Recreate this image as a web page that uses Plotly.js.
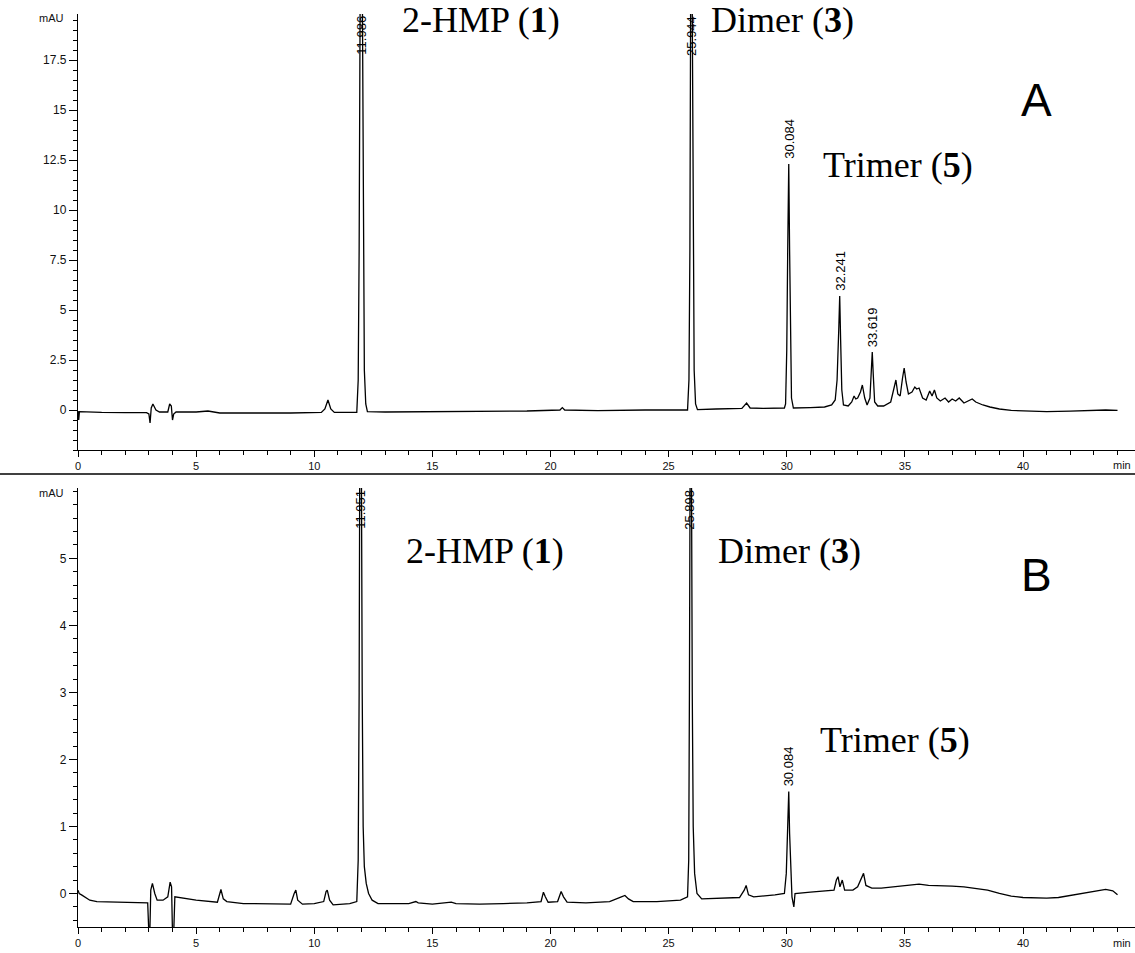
<!DOCTYPE html>
<html>
<head>
<meta charset="utf-8">
<script src="https://cdn.plot.ly/plotly-3.0.1.min.js"></script>
<style>html,body{margin:0;padding:0;background:#fff;}#chart{width:1135px;height:953px;}</style>
</head>
<body>
<div id="chart"></div>
<script>
// ---------- DATA ----------
// Panel A chromatogram (retention time in min, signal in mAU)
const timeA = [0.00,0.03,0.06,0.5,1.0,2.0,2.9,3.0,3.05,3.1,3.17,3.3,3.45,3.8,3.88,3.95,4.0,4.05,4.15,5.0,5.5,6.0,7.0,8.0,9.0,10.3,10.45,10.58,10.7,10.85,11.8,11.86,11.9,11.94,11.986,12.04,12.08,12.12,12.18,12.25,13.0,14.5,16.0,17.5,19.0,20.4,20.5,20.6,22.0,24.0,25.5,25.8,25.86,25.9,25.93,25.944,26.0,26.04,26.08,26.14,26.22,27.0,28.1,28.3,28.45,29.0,29.9,29.95,30.0,30.04,30.084,30.12,30.16,30.2,30.28,30.5,31.0,31.6,31.9,32.05,32.13,32.2,32.241,32.28,32.33,32.4,32.6,32.75,32.85,32.92,33.0,33.12,33.2,33.3,33.4,33.52,33.58,33.619,33.66,33.72,33.85,34.1,34.4,34.55,34.62,34.7,34.8,34.9,34.97,35.05,35.15,35.3,35.42,35.5,35.6,35.75,35.9,36.05,36.15,36.25,36.35,36.5,36.7,36.85,37.0,37.15,37.3,37.5,37.7,37.85,38.0,38.3,38.6,39.0,39.5,40.0,41.0,42.0,43.0,43.5,44.0];
const signalA = [-0.05,-0.5,-0.08,-0.1,-0.12,-0.13,-0.13,-0.2,-0.65,0.1,0.3,0.0,-0.1,-0.1,0.3,0.2,-0.5,-0.2,-0.1,-0.1,-0.05,-0.15,-0.16,-0.15,-0.15,-0.12,0.05,0.5,0.05,-0.12,-0.12,1.5,8,20,28,20,8,2,0.3,-0.08,-0.1,-0.09,-0.08,-0.06,-0.05,0.0,0.12,0.0,-0.03,0.0,0.02,0.0,1.5,8,20,28,20,8,2,0.3,0.02,0.05,0.08,0.35,0.1,0.08,0.1,0.3,3,8,12.3,8,3,0.6,0.1,0.1,0.12,0.15,0.25,0.5,1.5,4,5.7,3.5,1.0,0.25,0.2,0.4,0.7,0.55,0.6,0.9,1.25,0.6,0.25,0.6,2.0,2.9,1.8,0.4,0.2,0.2,0.4,1.1,1.5,0.8,0.7,1.6,2.1,1.4,0.8,0.9,1.15,1.05,1.1,0.6,0.5,0.95,0.7,1.0,0.6,0.45,0.6,0.4,0.55,0.45,0.6,0.35,0.45,0.55,0.4,0.25,0.15,0.05,-0.02,-0.05,-0.08,-0.06,-0.02,0.0,-0.02];

// Panel B chromatogram
const timeB = [0.0,0.05,0.15,0.3,0.5,0.8,1.5,2.5,2.95,3.0,3.04,3.08,3.15,3.25,3.35,3.6,3.8,3.9,3.96,4.0,4.05,4.1,4.3,5.0,5.9,6.0,6.05,6.15,6.3,7.0,8.0,9.0,9.15,9.22,9.3,9.5,10.0,10.4,10.5,10.55,10.65,10.8,11.5,11.8,11.86,11.9,11.93,11.951,11.99,12.03,12.07,12.12,12.2,12.3,12.45,12.7,14.0,14.3,14.4,15.0,15.8,16.0,17.0,18.0,19.0,19.6,19.7,19.78,19.9,20.3,20.45,20.55,20.7,21.5,22.5,23.0,23.15,23.3,23.5,24.5,25.5,25.8,25.85,25.88,25.91,25.93,25.96,26.0,26.04,26.1,26.2,26.4,27.0,28.0,28.2,28.28,28.38,28.6,29.5,29.9,29.98,30.03,30.084,30.12,30.17,30.22,30.3,30.35,31.0,31.5,32.0,32.1,32.17,32.25,32.35,32.45,32.8,33.0,33.25,33.35,33.6,34.0,34.5,35.0,35.6,36.0,36.5,37.0,37.5,38.0,38.5,39.0,39.5,40.0,40.5,41.0,41.5,42.0,42.5,43.0,43.5,43.8,44.0];
const signalB = [0.05,0.0,-0.02,-0.06,-0.1,-0.12,-0.13,-0.14,-0.14,-0.6,-0.6,0.05,0.15,0.0,-0.1,-0.1,-0.05,0.17,0.1,-0.6,-0.6,-0.05,-0.06,-0.1,-0.13,0.0,0.06,-0.08,-0.12,-0.15,-0.16,-0.16,0.0,0.05,-0.1,-0.16,-0.15,-0.12,0.03,0.05,-0.1,-0.17,-0.15,-0.12,0.5,3,7,9,7,3,1,0.4,0.15,0.0,-0.1,-0.15,-0.15,-0.12,-0.14,-0.16,-0.13,-0.15,-0.16,-0.15,-0.14,-0.12,0.02,-0.05,-0.13,-0.12,0.03,-0.05,-0.13,-0.14,-0.12,-0.05,-0.03,-0.08,-0.12,-0.12,-0.1,-0.05,0.5,3,8,9,7,3,1,0.3,0.0,-0.08,-0.07,-0.06,0.05,0.12,-0.02,-0.05,-0.02,0.0,0.3,1.0,1.52,0.9,0.25,-0.05,-0.2,0.0,0.02,0.03,0.05,0.2,0.25,0.1,0.2,0.05,0.05,0.1,0.3,0.12,0.08,0.08,0.1,0.12,0.14,0.12,0.12,0.11,0.1,0.08,0.05,0.0,-0.04,-0.06,-0.07,-0.07,-0.06,-0.03,0.0,0.03,0.06,0.04,-0.02];

// Peak retention-time labels
const peakTimesA = [11.986, 25.944, 30.084, 32.241, 33.619];
const peakTextA  = ["11.986", "25.944", "30.084", "32.241", "33.619"];
const peakTimesB = [11.951, 25.898, 30.084];
const peakTextB  = ["11.951", "25.898", "30.084"];

// Compound labels
const compoundNames   = ["2-HMP", "Dimer", "Trimer"];
const compoundNumbers = ["1", "3", "5"];
const panelLetters    = ["A", "B"];

// Axis tick labels
const yTicksA = [0, 2.5, 5, 7.5, 10, 12.5, 15, 17.5];
const yTicksB = [0, 1, 2, 3, 4, 5];
const yRangeA = [-2, 19.8];
const yRangeB = [-0.5, 6.05];
const xRange  = [0, 44.74];

// ---------- LAYOUT HELPERS ----------
const W = 1135, H = 953, L = 78;
const px = p => (p - L) / (W - L);
const py = p => 1 - p / H;

const tickFontX = {family: "Liberation Sans Narrow, Arial Narrow, Liberation Sans, Arial, sans-serif", size: 11, color: "#111"};
const tickFontY = {family: "Liberation Sans, Arial, sans-serif", size: 12, color: "#111"};
const serif = {family: "Liberation Serif, Times New Roman, serif", size: 36, color: "#000"};

function xAxis(anchor) {
  return {anchor: anchor, domain: [0, 1], range: xRange, tick0: 0, dtick: 5,
    ticks: "outside", ticklen: 6, tickwidth: 1, tickcolor: "#000",
    showline: true, linecolor: "#000", linewidth: 1.2, showgrid: false, zeroline: false,
    minor: {dtick: 1, tick0: 0, ticks: "outside", ticklen: 4, tickwidth: 1, tickcolor: "#000", showgrid: false},
    tickfont: tickFontX, fixedrange: true};
}
function yAxis(anchor, domain, range, vals, mdtick) {
  return {anchor: anchor, domain: domain, range: range, tickmode: "array", tickvals: vals,
    ticktext: vals.map(String),
    ticks: "outside", ticklen: 8, tickwidth: 1, tickcolor: "#000",
    showline: true, linecolor: "#000", linewidth: 1.2, showgrid: false, zeroline: false,
    minor: {tickmode: "linear", dtick: mdtick, tick0: 0, ticks: "outside", ticklen: 4, tickwidth: 1, tickcolor: "#000", showgrid: false},
    tickfont: tickFontY, fixedrange: true};
}

const traces = [
  {x: timeA, y: signalA, xaxis: "x", yaxis: "y", type: "scatter", mode: "lines",
   line: {color: "#000", width: 1.3}, hoverinfo: "skip"},
  {x: timeB, y: signalB, xaxis: "x2", yaxis: "y2", type: "scatter", mode: "lines",
   line: {color: "#000", width: 1.3}, hoverinfo: "skip"}
];

function peakHeight(t, times, sig) {
  let m = -Infinity;
  for (let i = 0; i < times.length; i++) if (Math.abs(times[i] - t) < 0.06) m = Math.max(m, sig[i]);
  return m;
}
const annotations = [];
function addPeakLabels(times, texts, tr, sig, range, xr, yr) {
  times.forEach((t, i) => {
    const h = peakHeight(t, tr, sig);
    const off = h >= range[1];
    annotations.push({x: t, y: off ? range[1] : h, xref: xr, yref: yr, text: texts[i],
      textangle: -90, showarrow: false, xanchor: "center", yanchor: off ? "top" : "bottom",
      yshift: off ? 0 : 3, font: {family: "Liberation Sans, Arial, sans-serif", size: 13, color: "#000"}});
  });
}
addPeakLabels(peakTimesA, peakTextA, timeA, signalA, yRangeA, "x", "y");
addPeakLabels(peakTimesB, peakTextB, timeB, signalB, yRangeB, "x2", "y2");

function compound(i, xc, yc) {
  annotations.push({xref: "paper", yref: "paper", x: px(xc), y: py(yc), showarrow: false,
    xanchor: "center", yanchor: "middle", text: compoundNames[i] + " (<b>" + compoundNumbers[i] + "</b>)", font: serif});
}
compound(0, 481, 20); compound(1, 782, 20); compound(2, 898, 165);
compound(0, 485, 551); compound(1, 789, 551); compound(2, 895, 740);

annotations.push({xref: "paper", yref: "paper", x: px(1036), y: py(100), showarrow: false, xanchor: "center", yanchor: "middle",
  text: panelLetters[0], font: {family: "Liberation Sans, Arial, sans-serif", size: 46, color: "#000"}});
annotations.push({xref: "paper", yref: "paper", x: px(1036), y: py(575), showarrow: false, xanchor: "center", yanchor: "middle",
  text: panelLetters[1], font: {family: "Liberation Sans, Arial, sans-serif", size: 46, color: "#000"}});

[18, 493].forEach(yy => annotations.push({xref: "paper", yref: "paper", x: px(66), y: py(yy), showarrow: false,
  xanchor: "right", yanchor: "middle", text: "mAU", font: {family: "Liberation Sans, Arial, sans-serif", size: 11, color: "#111"}}));
[465, 943].forEach(yy => annotations.push({xref: "paper", yref: "paper", x: px(1133), y: py(yy), showarrow: false,
  xanchor: "right", yanchor: "middle", text: "min", font: tickFontX}));

const layout = {
  width: W, height: H, margin: {l: L, r: 0, t: 0, b: 0},
  paper_bgcolor: "#fff", plot_bgcolor: "#fff", showlegend: false,
  xaxis: xAxis("y"),
  yaxis: yAxis("x", [py(450), py(14)], yRangeA, yTicksA, 0.5),
  xaxis2: xAxis("y2"),
  yaxis2: yAxis("x2", [py(927), py(488)], yRangeB, yTicksB, 0.2),
  annotations: annotations,
  shapes: [{type: "line", xref: "paper", yref: "paper", x0: -L / (W - L), x1: 1, y0: py(474), y1: py(474),
    line: {color: "#000", width: 1.5}}]
};

Plotly.newPlot("chart", traces, layout, {staticPlot: true, displayModeBar: false});
</script>
</body>
</html>
